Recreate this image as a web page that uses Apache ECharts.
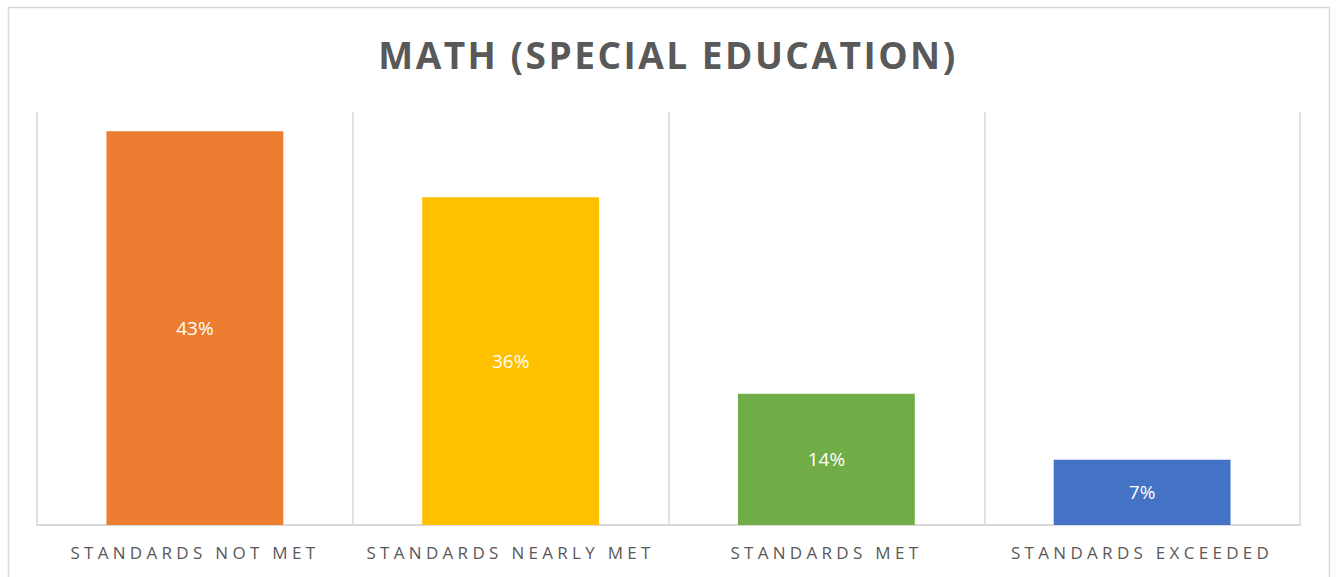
<!DOCTYPE html>
<html>
<head>
<meta charset="utf-8">
<script src="https://cdn.jsdelivr.net/npm/echarts@6/dist/echarts.min.js"></script>
<style>
html,body{margin:0;padding:0;background:#fff;}
#chart{width:1336px;height:577px;}
</style>
</head>
<body>
<div id="chart"></div>
<script>
const titleText = 'MATH (SPECIAL EDUCATION)';
const categories = ['STANDARDS NOT MET', 'STANDARDS NEARLY MET', 'STANDARDS MET', 'STANDARDS EXCEEDED'];
const values = [42.9, 35.7, 14.3, 7.1];
const colors = ['#ED7D31', '#FFC000', '#70AD47', '#4472C4'];
const yMax = 45;

const chart = echarts.init(document.getElementById('chart'), null, {renderer: 'svg'});
chart.setOption({
  animation: false,
  backgroundColor: '#fff',
  title: {
    text: titleText,
    left: 'center',
    top: 31,
    textStyle: {fontFamily: 'Open Sans', fontWeight: 'bold', fontSize: 37, color: '#595959'}
  },
  graphic: [{
    type: 'rect',
    shape: {x: 8.5, y: 7.5, width: 1321, height: 580},
    style: {fill: 'none', stroke: '#D9D9D9', lineWidth: 1.5},
    silent: true,
    z: -1
  }],
  grid: {left: 37, right: 36, top: 112, bottom: 52},
  xAxis: {
    type: 'category',
    data: categories,
    axisLine: {show: true, lineStyle: {color: '#D9D9D9', width: 2}},
    axisTick: {show: false},
    splitLine: {show: true, interval: 0, lineStyle: {color: '#D9D9D9', width: 1.5}},
    axisLabel: {interval: 0, margin: 19, fontFamily: 'Open Sans', fontSize: 17, color: '#595959'}
  },
  yAxis: {
    type: 'value',
    min: 0,
    max: yMax,
    show: false,
    splitLine: {show: false}
  },
  series: [{
    type: 'bar',
    data: values.map((v, i) => ({value: v, itemStyle: {color: colors[i]}})),
    barCategoryGap: '44%',
    label: {
      show: true,
      position: 'inside',
      formatter: p => Math.round(p.value) + '%',
      fontFamily: 'Open Sans',
      fontSize: 19,
      color: '#fff'
    }
  }]
});

function spaceTexts() {
  document.querySelectorAll('#chart svg text').forEach(t => {
    const s = t.textContent;
    if (s === titleText) t.style.letterSpacing = '2.5px';
    else if (categories.indexOf(s) >= 0) t.style.letterSpacing = '4.3px';
  });
}
chart.on('finished', spaceTexts);
spaceTexts();
</script>
</body>
</html>
